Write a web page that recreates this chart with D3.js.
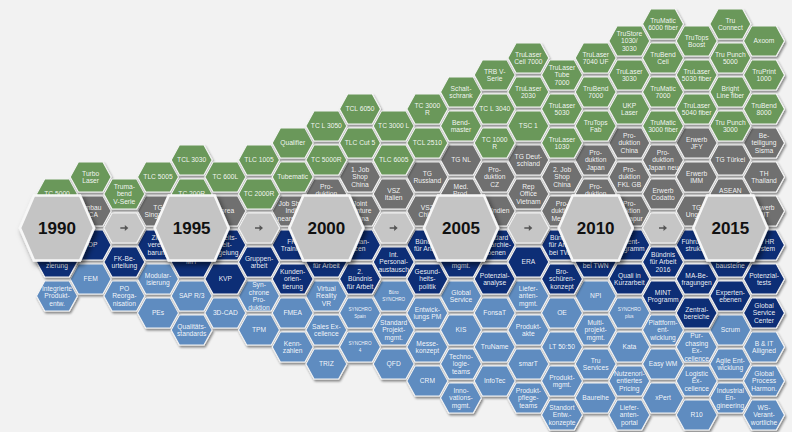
<!DOCTYPE html>
<html>
<head>
<meta charset="utf-8">
<script src="https://cdn.jsdelivr.net/npm/d3@7"></script>
<style>
  body { margin: 0; background: #f2f2f2; }
  svg { display: block; font-family: "Liberation Sans", Arial, sans-serif; }
</style>
</head>
<body>
<script>
// grid cells: [column, half-row, label]  ("|" = line break)
let products = [
  [0,-2,"TC 5000"], [1,-3,"Turbo|Laser"], [2,-2,"Truma-|bend|V-Serie"], [3,-3,"TLC 5005"],
  [4,-4,"TCL 3030"], [4,-2,"TC 200R"], [5,-3,"TC 600L"], [6,-4,"TLC 1005"], [6,-2,"TC 2000R"],
  [7,-5,"Qualifier"], [7,-3,"Tubematic"], [8,-6,"TC L 3050"], [8,-4,"TC 5000R"],
  [9,-7,"TCL 6050"], [9,-5,"TLC Cut 5"], [10,-6,"TC 3000 L"], [10,-4,"TLC 6005"],
  [11,-7,"TC 3000|R"], [11,-5,"TCL 2510"], [12,-8,"Schalt-|schrank"], [12,-6,"Bend-|master"],
  [13,-9,"TRB V-|Serie"], [13,-7,"TC L 3040"], [13,-5,"TC 1000|R"],
  [14,-10,"TruLaser|Cell 7000"], [14,-8,"TruLaser|2030"], [14,-6,"TSC 1"],
  [15,-9,"TruLaser|Tube|7000"], [15,-7,"TruLaser|5030"], [15,-5,"TruLaser|1030"],
  [16,-10,"TruLaser|7040 UF"], [16,-8,"TruBend|7000"], [16,-6,"TruTops|Fab"],
  [17,-11,"TruStore|1030/|3030"], [17,-9,"TruLaser|3030"], [17,-7,"UKP|Laser"],
  [18,-12,"TruMatic|6000 fiber"], [18,-10,"TruBend|Cell"], [18,-8,"TruMatic|7000"], [18,-6,"TruMatic|3000 fiber"],
  [19,-11,"TruTops|Boost"], [19,-9,"TruLaser|5030 fiber"], [19,-7,"TruLaser|5040 fiber"],
  [20,-12,"Tru|Connect"], [20,-10,"Tru Punch|5000"], [20,-8,"Bright|Line fiber"], [20,-6,"Tru Punch|3000"],
  [21,-11,"Axoom"], [21,-9,"TruPrint|1000"], [21,-7,"TruBend|8000"]
];

let locations = [
  [1,-1,"Umbau|GCA"], [3,-1,"TG|Singapur"], [5,-1,"Korea"], [7,-1,"Job Shop|India|nearshore"],
  [8,-2,"Pro-|duktion|USA"], [9,-3,"1. Job|Shop|China"], [9,-1,"Joint|Venture|China"],
  [10,-2,"VSZ|Italien"], [11,-3,"TG|Russland"], [11,-1,"VSZ|China"], [12,-4,"TG NL"],
  [12,-2,"Med.|Prod.|USA"], [13,-3,"Pro-|duktion|CZ"], [13,-1,"TG Indien"],
  [14,-4,"TG Deut-|schland"], [14,-2,"Rep|Office|Vietnam"], [15,-3,"2. Job|Shop|China"],
  [15,-1,"Pro-|duktion|Mexiko"], [16,-4,"Pro-|duktion|Japan"], [16,-2,"Pro-|duktion|Polen"],
  [17,-5,"Pro-|duktion|China"], [17,-3,"Pro-|duktion|FKL GB"], [17,-1,"Pro-|duktion|Singapur"],
  [18,-4,"Pro-|duktion|Japan neu"], [18,-2,"Erwerb|Codatto"], [19,-5,"Erwerb|JFY"],
  [19,-3,"Erwerb|IMM"], [19,-1,"TG|Ungarn"], [20,-4,"TG Türkei"], [20,-2,"ASEAN|Initiative"],
  [21,-5,"Be-|teiligung|Sisma"], [21,-3,"TH|Thailand"], [21,-1,"Erwerb|HIT"]
];

let organisation = [
  [0,2,"Qualifi-|zierung"], [1,1,"TOP"], [2,2,"FK-Be-|urteilung"], [3,1,"Ziel-|verein-|barung"],
  [4,2,"MIT"], [5,1,"Arbeits-|zeit-|regelung"], [5,3,"KVP"], [6,2,"Gruppen-|arbeit"],
  [7,1,"FK-|Training"], [7,3,"Kunden-|orien-|tierung"], [8,2,"1. Bündnis|für Arbeit"],
  [9,1,"Allian-|zen"], [9,3,"2.|Bündnis|für Arbeit"], [10,2,"Int.|Personal-|austausch"],
  [11,1,"Bündnis|für Arbeit"], [11,3,"Gesund-|heits-|politik"], [12,2,"Talent-|mgmt."],
  [13,1,"Standard|Hierarchie-|ebenen"], [13,3,"Potenzial-|analyse"], [14,2,"ERA"],
  [15,1,"Bündnis|für Arbeit|bei TWN"], [15,3,"Bro-|schüren-|konzept"], [16,2,"Quali|bei TWN"],
  [17,1,"Talent-|programm"], [17,3,"Quali in|Kurzarbeit"], [18,2,"Bündnis|für Arbeit|2016"],
  [18,4,"MINT|Programm"], [19,1,"Führungs-|struktur"], [19,3,"MA-Be-|fragungen"],
  [19,5,"Zentral-|bereiche"], [20,2,"Führungs-|bausteine"], [20,4,"Experten-|ebenen"],
  [21,1,"Int. HR|System"], [21,3,"Potenzial-|tests"], [21,5,"Global|Service|Center"]
];

let processes = [
  [0,4,"Integrierte|Produkt-|entw."], [1,3,"FEM"], [2,4,"PO|Reorga-|nisation"],
  [3,3,"Modular-|isierung"], [3,5,"PEs"], [4,4,"SAP R/3"], [4,6,"Qualitäts-|standards"],
  [5,5,"3D-CAD"], [6,4,"Syn-|chrone|Pro-|duktion"], [6,6,"TPM"], [7,5,"FMEA"], [7,7,"Kenn-|zahlen"],
  [8,4,"Virtual|Reality|VR"], [8,6,"Sales Ex-|cellence"], [8,8,"TRIZ"],
  [9,5,"SYNCHRO|Spain"], [9,7,"SYNCHRO|4"], [10,4,"Büro|SYNCHRO"],
  [10,6,"Standard|Projekt-|mgmt."], [10,8,"QFD"], [11,5,"Entwick-|lungs PM"],
  [11,7,"Messe-|konzept"], [11,9,"CRM"], [12,4,"Global|Service"], [12,6,"KIS"],
  [12,8,"Techno-|logie-|teams"], [12,10,"Inno-|vations-|mgmt."], [13,5,"FonsaT"],
  [13,7,"TruName"], [13,9,"InfoTec"], [14,4,"Liefer-|anten-|mgmt."], [14,6,"Produkt-|akte"],
  [14,8,"smarT"], [14,10,"Produkt-|pflege-|teams"], [15,5,"OE"], [15,7,"LT 50:50"],
  [15,9,"Produkt-|mgmt."], [15,11,"Standort|Entw.-|konzepte"], [16,4,"NPI"],
  [16,6,"Multi-|projekt-|mgmt."], [16,8,"Tru|Services"], [16,10,"Baureihe"],
  [17,5,"SYNCHRO|plus"], [17,7,"Kata"], [17,9,"Nutzenori-|entiertes|Pricing"],
  [17,11,"Liefer-|anten-|portal"], [18,6,"Plattform-|ent-|wicklung"], [18,8,"Easy WM"],
  [18,10,"xPert"], [19,7,"Pur-|chasing|Ex-|cellence"], [19,9,"Logistic|Ex-|cellence"],
  [19,11,"R10"], [20,6,"Scrum"], [20,8,"Agile Ent-|wicklung"], [20,10,"Industrial|En-|gineering"],
  [21,7,"B & IT|Alligned"], [21,9,"Global|Process|Harmon."], [21,11,"WS-|Verant-|wortliche"]
];

let years = ["1990", "1995", "2000", "2005", "2010", "2015"];
let yearCols = [0, 4, 8, 12, 16, 20];
let arrowCols = [2, 6, 10, 14, 18];

let width = 792, height = 432;

let x = d3.scaleLinear().domain([0, 21]).range([57, 764]);
let y = d3.scaleLinear().domain([0, 2]).range([228, 262]);

let hexLine = d3.line().curve(d3.curveLinearClosed);
let hex = (w, h, t) => hexLine([[-w/2,0],[-t,-h/2],[t,-h/2],[w/2,0],[t,h/2],[-t,h/2]]);

let svg = d3.select("body").append("svg")
            .attr("width", width)
            .attr("height", height);

svg.append("rect").attr("width", width).attr("height", height).attr("fill", "#f2f2f2");

let defs = svg.append("defs");
defs.append("filter").attr("id", "sh").attr("x", "-30%").attr("y", "-30%").attr("width", "160%").attr("height", "170%")
    .append("feDropShadow").attr("dx", 1.2).attr("dy", 2).attr("stdDeviation", 1.1)
    .attr("flood-color", "#000").attr("flood-opacity", 0.45);
defs.append("filter").attr("id", "shBig").attr("x", "-30%").attr("y", "-30%").attr("width", "170%").attr("height", "170%")
    .append("feDropShadow").attr("dx", 2.5).attr("dy", 3.5).attr("stdDeviation", 2.5)
    .attr("flood-color", "#000").attr("flood-opacity", 0.5);

let groups = [
  {cells: processes, fill: "#5f8cc0"},
  {cells: organisation, fill: "#112e76"},
  {cells: locations, fill: "#6f6f6f"},
  {cells: products, fill: "#6a985a"}
];

let small = svg.append("g");

groups.forEach(gr => {
  let cell = small.selectAll(null)
    .data(gr.cells)
    .enter()
    .append("g")
    .attr("transform", d => `translate(${x(d[0])},${y(d[1])})`);

  cell.append("path")
      .attr("d", hex(41, 30, 12.3))
      .attr("fill", gr.fill)
      .attr("stroke", "#f4f4f4")
      .attr("stroke-width", 1.2)
      .attr("filter", "url(#sh)");

  cell.each(function(d) {
    let lines = d[2].split("|");
    let tiny = d[2].indexOf("SYNCHRO") >= 0;
    let fs = tiny ? 4.6 : 6.7;
    let lh = tiny ? 6.5 : 7.4;
    let t = d3.select(this).append("text")
        .attr("text-anchor", "middle")
        .attr("fill", "#ffffff")
        .attr("fill-opacity", 0.93)
        .attr("font-size", fs);
    lines.forEach((ln, i) => {
      t.append("tspan")
       .attr("x", 0)
       .attr("y", (i - (lines.length - 1) / 2) * lh + fs * 0.36)
       .text(ln);
    });
  });
});

// arrow hexes between the years
let arrows = svg.append("g")
  .selectAll("g")
  .data(arrowCols)
  .enter()
  .append("g")
  .attr("transform", c => `translate(${x(c)},${y(0)})`);

arrows.append("path")
      .attr("d", hex(41, 30, 12.3))
      .attr("fill", "#c6c6c6")
      .attr("stroke", "#f4f4f4")
      .attr("stroke-width", 1.2)
      .attr("filter", "url(#sh)");

arrows.append("path")
      .attr("d", "M-4,-0.8H0.5V-3L4,0L0.5,3V0.8H-4Z")
      .attr("fill", "#555");

// big year hexes
let bigs = svg.append("g")
  .selectAll("g")
  .data(years)
  .enter()
  .append("g")
  .attr("transform", (d, i) => `translate(${x(yearCols[i])},${y(0)})`);

bigs.append("path")
    .attr("d", hex(74, 65, 23))
    .attr("fill", "#c4c4c4")
    .attr("stroke", "#f7f7f7")
    .attr("stroke-width", 2.6)
    .attr("filter", "url(#shBig)");

bigs.append("text")
    .attr("text-anchor", "middle")
    .attr("y", 6)
    .attr("font-size", 17)
    .attr("font-weight", "bold")
    .attr("fill", "#111")
    .text(d => d);
</script>
</body>
</html>
